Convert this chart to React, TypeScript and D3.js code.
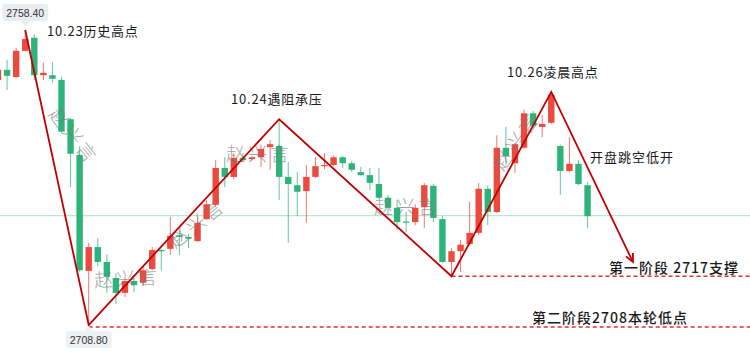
import React from "react";
import * as d3 from "d3";

// candles, one per bar, left to right (red = up, green = down)
const opens = [
  2750.0, 2751.7, 2750.5, 2754.9, 2757.1, 2750.8, 2750.8, 2750.0, 2743.4, 2737.4,
  2717.9, 2721.9, 2719.4, 2716.7, 2714.2, 2716.2, 2715.9, 2718.2, 2721.4, 2721.6,
  2723.9, 2723.6, 2722.9, 2726.6, 2729.0, 2735.2, 2733.7, 2736.9, 2736.7, 2737.0,
  2738.7, 2738.9, 2733.7, 2732.3, 2731.3, 2733.7, 2735.5, 2735.7, 2737.0, 2736.0,
  2734.5, 2734.0, 2732.5, 2730.2, 2728.5, 2726.2, 2726.1, 2728.6, 2732.2, 2726.6,
  2719.4, 2721.2, 2722.4, 2724.3, 2731.7, 2727.8, 2738.6, 2736.0, 2738.6, 2744.4,
  2742.1, 2742.8, 2738.9, 2734.7, 2735.9, 2732.3,
];
const highs = [
  2752.3, 2753.4, 2755.4, 2758.4, 2757.7, 2752.9, 2753.0, 2750.5, 2743.6, 2738.9,
  2722.6, 2723.4, 2720.7, 2717.5, 2716.9, 2716.7, 2718.5, 2721.9, 2721.6, 2727.0,
  2724.8, 2724.1, 2727.0, 2729.8, 2736.5, 2737.0, 2737.7, 2737.7, 2737.2, 2739.1,
  2739.9, 2743.4, 2736.2, 2734.5, 2735.7, 2737.0, 2737.7, 2737.3, 2737.2, 2736.4,
  2735.4, 2735.2, 2735.2, 2730.7, 2729.8, 2727.8, 2729.1, 2732.7, 2732.5, 2727.1,
  2721.7, 2723.1, 2729.5, 2732.7, 2732.3, 2740.7, 2742.1, 2739.4, 2745.0, 2744.8,
  2744.1, 2748.0, 2739.1, 2740.4, 2736.5, 2732.8,
];
const lows = [
  2749.7, 2748.3, 2750.3, 2754.8, 2750.0, 2750.0, 2749.5, 2741.1, 2732.0, 2717.7,
  2708.8, 2718.7, 2714.2, 2712.3, 2713.5, 2714.3, 2715.5, 2718.0, 2718.0, 2720.6,
  2720.6, 2721.7, 2722.8, 2726.5, 2728.6, 2732.0, 2733.3, 2736.2, 2736.5, 2735.4,
  2734.9, 2729.8, 2722.6, 2727.1, 2726.0, 2733.5, 2735.0, 2735.5, 2735.2, 2734.5,
  2733.9, 2731.5, 2730.0, 2727.3, 2724.8, 2724.4, 2725.6, 2725.1, 2726.1, 2719.2,
  2717.0, 2717.7, 2722.1, 2723.9, 2725.6, 2727.6, 2735.7, 2734.4, 2738.4, 2741.9,
  2740.4, 2742.6, 2730.7, 2734.5, 2732.3, 2725.1,
];
const closes = [
  2751.7, 2750.7, 2754.9, 2756.9, 2750.8, 2751.2, 2750.2, 2741.3, 2737.6, 2718.0,
  2721.9, 2719.4, 2716.9, 2714.2, 2716.2, 2715.5, 2718.0, 2721.4, 2721.2, 2723.8,
  2723.6, 2723.3, 2726.0, 2729.1, 2735.2, 2733.7, 2736.9, 2736.5, 2737.0, 2738.4,
  2739.2, 2733.7, 2732.5, 2731.2, 2733.7, 2735.5, 2735.7, 2737.0, 2736.0, 2734.9,
  2734.0, 2732.7, 2730.2, 2728.5, 2726.1, 2726.0, 2728.5, 2732.3, 2726.8, 2719.4,
  2721.2, 2722.3, 2724.3, 2731.7, 2727.8, 2738.6, 2737.2, 2739.2, 2744.4, 2742.3,
  2742.6, 2747.5, 2734.7, 2735.9, 2732.5, 2727.1,
];

// hand drawn wave: bar index / price of each turning point, last one is the arrow
const pivotIdx = [3, 10, 31, 50, 61, 70];
const pivotPrice = [2758.4, 2708.8, 2743.4, 2717.0, 2748.0, 2719.4];

// support lines
const supportPrice = [2717.0, 2708.8];
const supportFrom = [50, 10];
const supportText = ["第一阶段 2717支撑", "第二阶段2708本轮低点"];

const lastPrice = 2727.2;
const highLabel = "2758.40";
const lowLabel = "2708.80";

const notes = ["10.23历史高点", "10.24遇阻承压", "10.26凌晨高点", "开盘跳空低开"];

const W = 750;
const H = 355;
const RED = "#eb4a3f";
const GREEN = "#2db47a";
const LINE = "#c00000";
const CN = "'Noto Sans CJK SC', sans-serif";

const App = () => {
  const x = d3.scaleLinear().domain([0, 70]).range([-2, -2 + 9.07 * 70]);
  const y = d3.scaleLinear().domain([2708.8, 2758.4]).range([325, 30]);
  const bw = 6.4;

  const pts = pivotIdx.map((d, i) => [x(d), y(pivotPrice[i])] as [number, number]);
  const path = d3.line()(pts);

  // arrow head
  const [ax, ay] = pts[pts.length - 1];
  const [bx, by] = pts[pts.length - 2];
  const ang = Math.atan2(ay - by, ax - bx);
  const ah = 9;
  const a1 = [ax - ah * Math.cos(ang - 0.45), ay - ah * Math.sin(ang - 0.45)];
  const a2 = [ax - ah * Math.cos(ang + 0.45), ay - ah * Math.sin(ang + 0.45)];

  const marks = [
    { text: "赵兴言", x: 75, y: 135, r: 52 },
    { text: "赵兴言", x: 127, y: 277, r: -3 },
    { text: "赵兴言", x: 196, y: 222, r: -38 },
    { text: "赵兴言", x: 259, y: 152, r: 0 },
    { text: "赵兴言", x: 407, y: 205, r: 0 },
    { text: "赵兴言", x: 515, y: 140, r: -55 },
  ];

  const hx = x(pivotIdx[0]);
  const lx = x(pivotIdx[1]);

  return (
    <div style={{ position: "fixed", left: 0, top: 0 }}>
      <svg width={W} height={H} style={{ display: "block", background: "#fff" }}>
        {/* last price line */}
        <line x1={0} x2={W} y1={y(lastPrice)} y2={y(lastPrice)} stroke="#b9e8cf" strokeWidth={1.2} />

        {/* candles */}
        {opens.map((o, i) => {
          const c = closes[i];
          const up = c >= o;
          const col = up ? RED : GREEN;
          const top = y(Math.max(o, c));
          const h = Math.max(1.2, Math.abs(y(o) - y(c)));
          return (
            <g key={i}>
              <line x1={x(i)} x2={x(i)} y1={y(highs[i])} y2={y(lows[i])} stroke={col} strokeOpacity={0.75} strokeWidth={1} />
              <rect x={x(i) - bw / 2} y={top} width={bw} height={h} fill={col} />
            </g>
          );
        })}

        {/* watermark */}
        {marks.map((m, i) => (
          <text
            key={i}
            transform={`translate(${m.x},${m.y}) rotate(${m.r})`}
            textAnchor="middle"
            dominantBaseline="central"
            fontFamily={CN}
            fontSize={19}
            fontWeight={300}
            fill="#7a7a7a"
            fillOpacity={0.7}
            letterSpacing={3}
          >
            {m.text}
          </text>
        ))}

        {/* support lines */}
        {supportPrice.map((p, i) => (
          <line
            key={i}
            x1={x(supportFrom[i])}
            x2={W}
            y1={y(p) + (i === 1 ? 2 : 0)}
            y2={y(p) + (i === 1 ? 2 : 0)}
            stroke="#d8332f"
            strokeWidth={1.6}
            strokeDasharray="4,3"
          />
        ))}

        {/* wave lines */}
        <path d={path || ""} fill="none" stroke={LINE} strokeWidth={1.8} />
        <path d={`M${a1[0]},${a1[1]}L${ax},${ay}L${a2[0]},${a2[1]}`} fill="none" stroke={LINE} strokeWidth={1.8} />

        {/* high / low tags */}
        <g>
          <rect x={hx - 23} y={4} width={46} height={17} rx={3} fill="#e9edf1" />
          <path d={`M${hx - 5},21L${hx},26L${hx + 5},21Z`} fill="#e9edf1" />
          <text x={hx} y={16.5} textAnchor="middle" fontFamily="'Liberation Sans', Arial, sans-serif" fontSize={10.5} fill="#333">
            {highLabel}
          </text>
        </g>
        <g>
          <rect x={lx - 23} y={331} width={46} height={17} rx={3} fill="#eef1f4" />
          <path d={`M${lx - 5},331L${lx},326L${lx + 5},331Z`} fill="#eef1f4" />
          <text x={lx} y={343.5} textAnchor="middle" fontFamily="'Liberation Sans', Arial, sans-serif" fontSize={10.5} fill="#333">
            {lowLabel}
          </text>
        </g>

        {/* notes */}
        <text x={47} y={36} fontFamily={CN} fontSize={13} fill="#1a1a1a" letterSpacing={0.8}>{notes[0]}</text>
        <text x={231} y={104} fontFamily={CN} fontSize={13} fill="#1a1a1a" letterSpacing={0.8}>{notes[1]}</text>
        <text x={507} y={77} fontFamily={CN} fontSize={13} fill="#1a1a1a" letterSpacing={0.8}>{notes[2]}</text>
        <text x={590} y={162} fontFamily={CN} fontSize={13} fill="#1a1a1a" letterSpacing={1}>{notes[3]}</text>
        <text x={609} y={273} fontFamily={CN} fontSize={14} fontWeight={500} fill="#1a1a1a" letterSpacing={1}>{supportText[0]}</text>
        <text x={532} y={323} fontFamily={CN} fontSize={14} fontWeight={500} fill="#1a1a1a" letterSpacing={1}>{supportText[1]}</text>
      </svg>
    </div>
  );
};

export default App;
